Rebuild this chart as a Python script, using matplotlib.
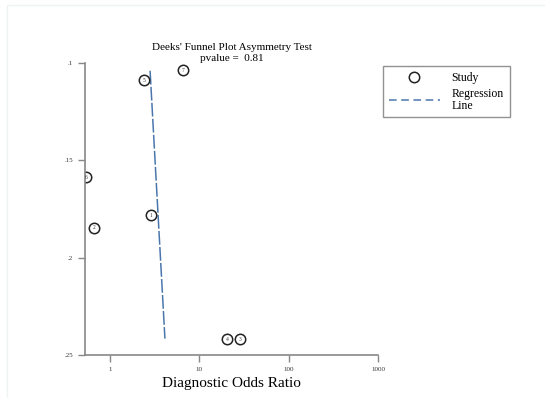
import numpy as np
import matplotlib.pyplot as plt
from matplotlib.lines import Line2D
from matplotlib.patches import Rectangle

# Study estimates: diagnostic odds ratio and 1/sqrt(effective sample size)
study_ids = ['1', '2', '3', '4', '5', '6', '7']
dor = [2.87, 0.66, 28.4, 20.5, 2.43, 0.537, 6.6]
inv_root_ess = [0.1782, 0.1847, 0.2418, 0.2418, 0.1089, 0.1588, 0.1036]

# Fitted regression line end points
reg_dor = [2.81, 4.12]
reg_y = [0.104, 0.2416]

pvalue = 0.81

serif = ['Liberation Serif', 'DejaVu Serif']
plt.rcParams['font.family'] = serif

fig = plt.figure(figsize=(5.45, 3.98), dpi=100)
ax = fig.add_axes([85 / 545, 1 - 355 / 398, (378 - 85) / 545, (355 - 63) / 398])

# faint outer frame
fig.patches.append(Rectangle((7 / 545, -0.01), 0.99, 1 - 5 / 398 + 0.01,
                             transform=fig.transFigure, fill=False,
                             edgecolor='#eef2f2', lw=1))

ax.set_xscale('log')
ax.set_xlim(0.525, 1000)
ax.set_ylim(0.25, 0.1)

line_col = '#4a76ad'
ax.plot(reg_dor, reg_y, color=line_col, lw=1.1, dashes=(9, 1.5))

for sid, x, y in zip(study_ids, dor, inv_root_ess):
    ax.plot(x, y, 'o', ms=7.5, mfc='white', mec='#222222', mew=1.1)
    ax.text(x, y, sid, fontsize=4, ha='center', va='center', color='#333333')

for s in ['top', 'right']:
    ax.spines[s].set_visible(False)
for s in ['left', 'bottom']:
    ax.spines[s].set_color('#888888')
    ax.spines[s].set_linewidth(1.2)
ax.spines['bottom'].set_bounds(0.525, 1000)

ax.set_xticks([1, 10, 100, 1000])
ax.set_xticklabels(['1', '10', '100', '1000'])
ax.xaxis.set_minor_locator(plt.NullLocator())
ax.set_yticks([0.1, 0.15, 0.2, 0.25])
ax.set_yticklabels(['.1', '.15', '.2', '.25'])
ax.tick_params(axis='both', length=5, width=1, color='#888888',
               labelsize=5, labelcolor='#333333')

ax.set_xlabel('Diagnostic Odds Ratio', fontsize=11, labelpad=4)
ax.set_title("Deeks' Funnel Plot Asymmetry Test\npvalue =  %.2f" % pvalue,
             fontsize=8, linespacing=1.25, pad=-1)
ax.patch.set_alpha(0)

handles = [
    Line2D([], [], marker='o', ls='none', ms=7.5, mfc='white', mec='#222222', mew=1.1),
    Line2D([], [], color=line_col, lw=1.1, dashes=(5, 3)),
]
leg = fig.legend(handles, ['Study', 'Regression\nLine'],
                 loc='upper left', bbox_to_anchor=(383 / 545, 1 - 66 / 398),
                 borderaxespad=0, frameon=True, fancybox=False, fontsize=8.5,
                 handlelength=4.3, borderpad=0.5, labelspacing=0.35,
                 handletextpad=1.0)
for t in leg.get_texts():
    t.set_linespacing(0.95)
leg.get_frame().set_edgecolor('#777777')
leg.get_frame().set_linewidth(1.0)

fig.savefig('out.png', dpi=100)
